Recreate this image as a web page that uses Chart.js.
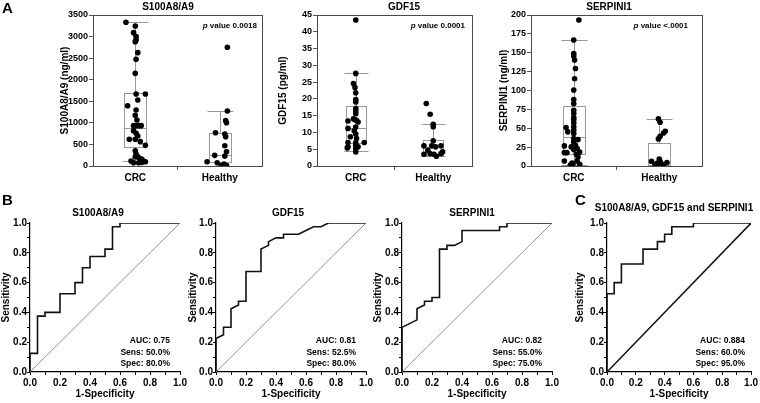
<!DOCTYPE html>
<html><head><meta charset="utf-8">
<script src="https://cdn.jsdelivr.net/npm/chart.js@4.4.1/dist/chart.umd.min.js"></script>
<style>
html,body{margin:0;padding:0;background:#fff;width:760px;height:403px;overflow:hidden}
canvas{position:absolute;left:0;top:0}
</style></head><body>
<canvas id="a1" width="760" height="403"></canvas>
<canvas id="a2" width="760" height="403"></canvas>
<canvas id="a3" width="760" height="403"></canvas>
<canvas id="b1" width="760" height="403"></canvas>
<canvas id="b2" width="760" height="403"></canvas>
<canvas id="b3" width="760" height="403"></canvas>
<canvas id="c1" width="760" height="403"></canvas>
<script>
// ---------------- DATA ----------------
const categories = ['CRC', 'Healthy'];

// Panel A: S100A8/A9 (ng/ml)
const s100Crc = [3331,3245,3091,2998,2921,2882,2627,2473,2148,1669,1669,1398,1530,1298,1175,1066,935,935,935,935,819,757,695,618,618,564,479,355,278,216,216,178,155,100,116,77,85,77];
const s100CrcJitter = [-0.11,0,-0.02,0.01,0.01,0,0.03,0.01,0,0.01,0.12,-0.09,0.03,0.01,0,0.02,-0.02,0.01,0.04,0.07,-0.02,0.01,0.03,-0.07,0,0.06,0.12,0,0.01,0,0.03,0.05,0.08,0.12,-0.05,-0.02,0.08,0.04];
const s100Healthy = [2751,1275,1051,1004,772,742,680,471,332,247,232,100,77,46,8,8];
const s100HealthyJitter = [0.09,0.09,0.07,0.08,-0.05,0.06,0.07,0.06,0.08,-0.06,0.06,-0.15,-0.03,0.05,0.08,0.02];
const s100CrcBox = [108, 440, 873, 1685, 3331];      // min, q1, median, q3, max
const s100HealthyBox = [8, 85, 248, 772, 1275];
const s100Ticks = [0,500,1000,1500,2000,2500,3000,3500];

// Panel A: GDF15 (pg/ml)
const gdfCrc = [43.5,27.6,24.6,23.4,21.8,19.8,19.1,17.1,16.4,15.6,13.4,14.1,13.8,13.6,13.1,11.6,11.2,10.5,9.5,8.7,8.2,7.0,7.0,6.9,6.2,5.7,5.4,5.2,5.7,4.2];
const gdfCrcJitter = [0,0,-0.03,-0.01,0,0,0,0,0,0,-0.1,-0.03,-0.01,0.01,0.03,0,-0.1,-0.02,0,-0.07,0.01,-0.1,0.11,0,0,-0.1,-0.11,0,0.03,0];
const gdfHealthy = [18.6,15.4,12.45,11.7,7.5,6.0,6.0,5.7,6.0,4.7,3.5,3.7,3.5,3.7,4.2,2.9];
const gdfHealthyJitter = [-0.09,-0.04,0,0,0,-0.12,-0.02,0.03,0.1,-0.07,-0.12,-0.04,0.01,0.1,0.12,0.04];
const gdfCrcBox = [4.4, 7.0, 11.2, 18.0, 27.6];
const gdfHealthyBox = [2.9, 3.3, 5.7, 7.6, 12.5];
const gdfTicks = [0,5,10,15,20,25,30,35,40,45];

// Panel A: SERPINI1 (ng/ml)
const serpCrc = [193.4,166.8,149.1,145.6,140.3,129.2,115.5,100.5,88.1,82.8,73.9,69.5,64.2,61.5,57.1,50.9,51.8,47.4,45.2,43.0,36.3,35.0,31.9,27.5,26.6,25.3,21.7,23.1,17.7,17.7,18.6,15.5,12.0,6.6,4.0,6.6,2.3,1.4,2.3];
const serpCrcJitter = [0.06,0,0,0,0.01,0.02,0.01,0,0,0,0,0,0,0,0,-0.09,0,0,-0.07,0,0,0.05,0,0.02,-0.11,-0.03,0,0.04,-0.11,-0.08,0.07,0.03,0.05,-0.11,-0.02,0.04,-0.01,-0.04,0.07];
const serpHealthy = [62.4,58.0,46.1,43.8,39.4,35.9,6.2,9.3,6.2,4.0,4.7,1.8,2.6,1.8];
const serpHealthyJitter = [-0.01,0.01,0.07,0.05,0.01,-0.01,-0.09,0,0.01,-0.02,0.09,-0.05,0.01,0.05];
const serpCrcBox = [1.5, 15.5, 38.5, 80.1, 166.8];
const serpHealthyBox = [0.5, 1.8, 4.5, 31.0, 62.9];
const serpTicks = [0,25,50,75,100,125,150,175,200];

const pValues = ['0.0018', '0.0001', '<.0001'];

// Panels B & C: ROC curves (1-Specificity, Sensitivity)
const rocTicks = [0,0.1,0.2,0.3,0.4,0.5,0.6,0.7,0.8,0.9,1.0];
const rocTickLabels = ['0.0','','0.2','','0.4','','0.6','','0.8','','1.0'];
const diagFpr = [0, 1];
const diagTpr = [0, 1];

const s100Fpr = [0,0,0.05,0.05,0.1,0.1,0.2,0.2,0.3,0.3,0.35,0.35,0.4,0.4,0.5,0.5,0.55,0.55,0.6,0.6,1];
const s100Tpr = [0,0.125,0.125,0.375,0.375,0.4,0.4,0.525,0.525,0.6,0.6,0.7,0.7,0.775,0.775,0.825,0.825,0.975,0.975,1,1];
const s100Roc = ['AUC: 0.75', 'Sens: 50.0%', 'Spec: 80.0%'];

const gdfFpr = [0,0,0.05,0.05,0.1,0.1,0.15,0.15,0.2,0.2,0.3,0.3,0.35,0.35,0.4,0.45,0.45,0.55,0.6,0.65,0.7,0.75,1];
const gdfTpr = [0,0.225,0.25,0.3,0.3,0.425,0.45,0.475,0.475,0.675,0.675,0.825,0.85,0.875,0.9,0.9,0.925,0.925,0.95,0.975,0.975,1,1];
const gdfRoc = ['AUC: 0.81', 'Sens: 52.5%', 'Spec: 80.0%'];

const serpFpr = [0,0,0.1,0.1,0.15,0.15,0.2,0.2,0.25,0.25,0.3,0.3,0.35,0.4,0.4,0.65,0.65,0.7,0.7,1];
const serpTpr = [0,0.3,0.35,0.425,0.45,0.475,0.475,0.5,0.5,0.825,0.825,0.85,0.85,0.875,0.95,0.95,0.975,0.975,1,1];
const serpRoc = ['AUC: 0.82', 'Sens: 55.0%', 'Spec: 75.0%'];

const combFpr = [0,0,0.05,0.05,0.1,0.1,0.25,0.25,0.35,0.35,0.4,0.4,0.45,0.45,0.6,0.6,1];
const combTpr = [0,0.525,0.525,0.6,0.6,0.725,0.725,0.825,0.825,0.875,0.875,0.925,0.925,0.975,0.975,1,1];
const combRoc = ['AUC: 0.884', 'Sens: 60.0%', 'Spec: 95.0%'];

// ---------------- RENDERING ----------------
const FAM = '"Liberation Sans", Arial, Helvetica, sans-serif';
const F = (size, style) => ({family: FAM, size: size, weight: 'bold', style: style || 'normal', lineHeight: 1.2});
const css = (size, italic) => (italic ? 'italic ' : '') + 'bold ' + size + 'px ' + FAM;
Chart.defaults.font.family = FAM;
Chart.defaults.color = '#000';

const boxPlugin = {
  id: 'boxes',
  beforeDatasetsDraw(chart, args, opts) {
    if (!opts || !opts.stats) return;
    const ctx = chart.ctx, xs = chart.scales.x, ys = chart.scales.y;
    const Y = v => Math.round(ys.getPixelForValue(v)) + 0.5;
    ctx.save();
    ctx.strokeStyle = '#999';
    ctx.lineWidth = 1;
    opts.stats.forEach((s, i) => {
      const [mn, q1, med, q3, mx] = s;
      const cx = Math.round(xs.getPixelForValue(i)) + 0.5;
      const hw = Math.round(xs.getPixelForValue(i + opts.boxHalf) - xs.getPixelForValue(i));
      const ch = Math.round(xs.getPixelForValue(i + opts.capHalf) - xs.getPixelForValue(i));
      ctx.beginPath();
      ctx.moveTo(cx, Y(q3)); ctx.lineTo(cx, Y(mx));
      ctx.moveTo(cx - ch, Y(mx)); ctx.lineTo(cx + ch, Y(mx));
      ctx.moveTo(cx, Y(q1)); ctx.lineTo(cx, Y(mn));
      ctx.moveTo(cx - ch, Y(mn)); ctx.lineTo(cx + ch, Y(mn));
      ctx.moveTo(cx - hw, Y(med)); ctx.lineTo(cx + hw, Y(med));
      ctx.stroke();
      ctx.strokeRect(cx - hw, Y(q3), 2 * hw, Y(q1) - Y(q3));
    });
    ctx.restore();
  }
};

const textPlugin = {
  id: 'texts',
  afterDraw(chart, args, opts) {
    if (!opts) return;
    const ctx = chart.ctx, ca = chart.chartArea;
    if (opts.frame) {
      ctx.save();
      ctx.strokeStyle = opts.frame;
      ctx.lineWidth = 1;
      ctx.strokeRect(Math.round(ca.left) + 0.5, Math.round(ca.top) + 0.5, Math.round(ca.right - ca.left), Math.round(ca.bottom - ca.top));
      ctx.restore();
    }
    (opts.items || []).forEach(it => {
      ctx.save();
      ctx.fillStyle = '#000';
      ctx.textBaseline = it.baseline || 'alphabetic';
      ctx.textAlign = 'left';
      const parts = it.parts || [{t: it.text, font: it.font}];
      const widths = parts.map(p => { ctx.font = p.font; return ctx.measureText(p.t).width; });
      const total = widths.reduce((a, b) => a + b, 0);
      let x = it.align === 'right' ? it.x - total : (it.align === 'center' ? it.x - total / 2 : it.x);
      parts.forEach((p, k) => { ctx.font = p.font; ctx.fillText(p.t, x, it.y); x += widths[k]; });
      ctx.restore();
    });
  }
};
Chart.register(boxPlugin, textPlugin);

function boxChart(id, c) {
  const xh = 20;
  const ds = (vals, jit, center) => ({
    data: vals.map((v, i) => ({x: center + jit[i], y: v})),
    pointRadius: 2.8, pointBackgroundColor: '#000', pointBorderWidth: 0, showLine: false
  });
  new Chart(document.getElementById(id), {
    type: 'scatter',
    data: {datasets: [ds(c.crc, c.crcJ, 0), ds(c.hea, c.heaJ, 1)]},
    options: {
      responsive: false, animation: false, devicePixelRatio: 1, events: [],
      layout: {padding: {left: c.l - c.yw, top: c.t, right: 760 - c.r, bottom: 403 - c.b - xh}},
      plugins: {
        legend: {display: false}, tooltip: {enabled: false},
        boxes: {stats: [c.crcBox, c.heaBox], boxHalf: 0.125, capHalf: 0.15},
        texts: {frame: '#4a4a4a', items: c.items}
      },
      scales: {
        x: {
          type: 'linear', min: -0.5, max: 1.5,
          afterBuildTicks: s => { s.ticks = [0, 0.5, 1].map(v => ({value: v})); },
          afterFit: s => { s.height = xh; },
          ticks: {callback: v => v === 0 ? categories[0] : (v === 1 ? categories[1] : ''), font: F(10), color: '#000', padding: 2, autoSkip: false, maxRotation: 0},
          grid: {drawOnChartArea: false, tickLength: 4, tickColor: cx => (cx.tick && cx.tick.value === 0.5) ? '#555' : 'rgba(0,0,0,0)'},
          border: {display: false}
        },
        y: {
          type: 'linear', min: 0, max: c.ticks[c.ticks.length - 1],
          afterBuildTicks: s => { s.ticks = c.ticks.map(v => ({value: v})); },
          afterFit: s => { s.width = c.yw; },
          ticks: {callback: v => String(v), font: F(9), color: '#000', padding: 1, autoSkip: false},
          grid: {drawOnChartArea: false, tickLength: 4, tickColor: '#555'},
          border: {display: false},
          title: {display: true, text: c.ytitle, font: F(10), color: '#000', padding: {top: c.ytp, bottom: 0}}
        }
      }
    }
  });
}

function rocChart(id, c) {
  const xh = 31;
  const pts = (xs, ys) => xs.map((v, i) => ({x: v, y: ys[i]}));
  const items = [
    {text: c.title, font: css(10), x: c.tx, y: c.ty, align: 'center'},
    {text: c.stats[0], font: css(8.5), x: c.sx, y: 341, align: 'right', baseline: 'middle'},
    {text: c.stats[1], font: css(8.5), x: c.sx, y: 352.5, align: 'right', baseline: 'middle'},
    {text: c.stats[2], font: css(8.5), x: c.sx, y: 363.5, align: 'right', baseline: 'middle'}
  ].concat(c.extra || []);
  new Chart(document.getElementById(id), {
    type: 'scatter',
    data: {datasets: [
      {data: pts(diagFpr, diagTpr), showLine: true, borderColor: c.diagColor, borderWidth: c.diagWidth, pointRadius: 0, tension: 0},
      {data: pts(c.fpr, c.tpr), showLine: true, borderColor: '#111', borderWidth: 1.6, pointRadius: 0, tension: 0}
    ]},
    options: {
      responsive: false, animation: false, devicePixelRatio: 1, events: [],
      layout: {padding: {left: c.l - c.yw, top: 223, right: 760 - c.r, bottom: 403 - 372 - xh}},
      plugins: {legend: {display: false}, tooltip: {enabled: false}, texts: {items: items}},
      scales: {
        x: {
          type: 'linear', min: 0, max: 1,
          afterBuildTicks: s => { s.ticks = rocTicks.map(v => ({value: v})); },
          afterFit: s => { s.height = xh; },
          ticks: {callback: (v, i) => rocTickLabels[i], font: F(10), color: '#000', padding: 2, autoSkip: false, maxRotation: 0},
          grid: {drawOnChartArea: false, tickLength: 3, tickColor: '#000'},
          border: {color: '#000', width: 1.2},
          title: {display: true, text: '1-Specificity', font: F(10), color: '#000', padding: {top: 0, bottom: 3}}
        },
        y: {
          type: 'linear', min: 0, max: 1,
          afterBuildTicks: s => { s.ticks = rocTicks.map(v => ({value: v})); },
          afterFit: s => { s.width = c.yw; },
          ticks: {callback: (v, i) => rocTickLabels[i], font: F(10), color: '#000', padding: 0, autoSkip: false},
          grid: {drawOnChartArea: false, tickLength: 3, tickColor: '#000'},
          border: {color: '#000', width: 1.2},
          title: {display: true, text: 'Sensitivity', font: F(10), color: '#000', padding: {top: 0, bottom: 0}}
        }
      }
    }
  });
}

const pItem = (pv, x) => ({parts: [{t: 'p', font: css(8, true)}, {t: ' value ' + pv, font: css(8)}], x: x, y: 25.5, align: 'right', baseline: 'middle'});

boxChart('a1', {crc: s100Crc, crcJ: s100CrcJitter, hea: s100Healthy, heaJ: s100HealthyJitter,
  crcBox: s100CrcBox, heaBox: s100HealthyBox, ticks: s100Ticks, ytitle: 'S100A8/A9 (ng/ml)',
  l: 93, r: 262, t: 15, b: 166, yw: 38, ytp: 4,
  items: [{text: 'A', font: css(15), x: 2, y: 13}, {text: 'S100A8/A9', font: css(10), x: 168, y: 10, align: 'center'}, pItem(pValues[0], 257)]});

boxChart('a2', {crc: gdfCrc, crcJ: gdfCrcJitter, hea: gdfHealthy, heaJ: gdfHealthyJitter,
  crcBox: gdfCrcBox, heaBox: gdfHealthyBox, ticks: gdfTicks, ytitle: 'GDF15 (pg/ml)',
  l: 317, r: 472, t: 15, b: 166, yw: 40, ytp: 0,
  items: [{text: 'GDF15', font: css(10), x: 404, y: 10, align: 'center'}, pItem(pValues[1], 465)]});

boxChart('a3', {crc: serpCrc, crcJ: serpCrcJitter, hea: serpHealthy, heaJ: serpHealthyJitter,
  crcBox: serpCrcBox, heaBox: serpHealthyBox, ticks: serpTicks, ytitle: 'SERPINI1 (ng/ml)',
  l: 531, r: 702, t: 15, b: 166, yw: 34, ytp: 1,
  items: [{text: 'SERPINI1', font: css(10), x: 609, y: 10, align: 'center'}, pItem(pValues[2], 688)]});

rocChart('b1', {fpr: s100Fpr, tpr: s100Tpr, stats: s100Roc, title: 'S100A8/A9', tx: 98, ty: 216,
  l: 30, r: 180, yw: 30, sx: 170, diagColor: '#777', diagWidth: 0.8,
  extra: [{text: 'B', font: css(15), x: 2, y: 205}]});
rocChart('b2', {fpr: gdfFpr, tpr: gdfTpr, stats: gdfRoc, title: 'GDF15', tx: 288, ty: 216,
  l: 216, r: 366, yw: 29, sx: 356, diagColor: '#777', diagWidth: 0.8});
rocChart('b3', {fpr: serpFpr, tpr: serpTpr, stats: serpRoc, title: 'SERPINI1', tx: 472, ty: 216,
  l: 402, r: 552, yw: 30, sx: 542, diagColor: '#777', diagWidth: 0.8});
rocChart('c1', {fpr: combFpr, tpr: combTpr, stats: combRoc, title: 'S100A8/A9, GDF15 and SERPINI1', tx: 674, ty: 211,
  l: 607, r: 752, yw: 33, sx: 745, diagColor: '#111', diagWidth: 1.5,
  extra: [{text: 'C', font: css(15), x: 575, y: 205}]});
</script>
</body></html>
